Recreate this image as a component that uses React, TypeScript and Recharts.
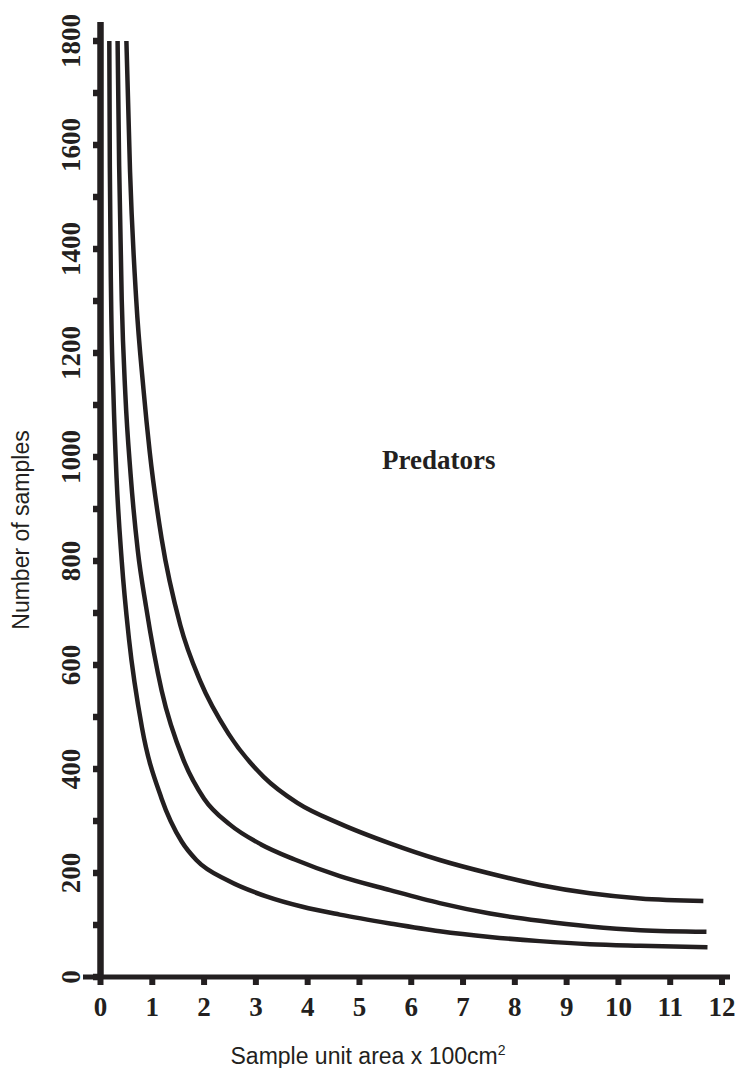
import { LineChart, Line, XAxis, YAxis, ReferenceLine } from "recharts";

const INK = "#231f20";
const SERIF = "'Liberation Serif', 'Times New Roman', serif";
const SANS = "'Liberation Sans', Arial, Helvetica, sans-serif";

// sample unit area (x 100 cm2) ticks and sample-count ticks
const AREA_TICKS = [0, 1, 2, 3, 4, 5, 6, 7, 8, 9, 10, 11, 12];
const COUNT_TICKS = [
  0, 100, 200, 300, 400, 500, 600, 700, 800, 900, 1000, 1100, 1200, 1300,
  1400, 1500, 1600, 1700, 1800,
];

// lower curve
const LOW_AREA = [0.17, 0.18, 0.205, 0.25, 0.31, 0.41, 0.55, 0.8, 1.18, 1.57, 1.85, 2.47, 3.2, 3.9, 4.62, 5.59, 6.55, 7.52, 8.48, 9.45, 10.42, 11.72];
const LOW_N = [1800, 1560, 1302, 1120, 960, 800, 650, 480, 343, 260, 225, 185, 155, 135, 120, 103, 88, 77, 69, 63, 60, 57];

// middle curve
const MID_AREA = [0.33, 0.36, 0.41, 0.48, 0.58, 0.72, 0.88, 1.18, 1.6, 2.0, 2.5, 3.1, 3.75, 4.62, 5.59, 6.55, 7.52, 8.48, 9.45, 10.42, 11.7];
const MID_N = [1800, 1560, 1302, 1120, 968, 820, 712, 551, 418, 343, 293, 255, 226, 194, 167, 142, 122, 108, 97, 90, 87];

// upper curve
const HIGH_AREA = [0.5, 0.57, 0.69, 0.83, 0.95, 1.18, 1.54, 1.93, 2.47, 3.15, 3.8, 4.62, 5.59, 6.55, 7.52, 8.48, 9.45, 10.42, 11.64];
const HIGH_N = [1800, 1550, 1302, 1130, 1010, 843, 677, 568, 468, 385, 335, 295, 257, 225, 199, 177, 161, 151, 146];

const zip = (xs: number[], ys: number[]) => xs.map((area, i) => ({ area, n: ys[i] }));

const curves = [zip(LOW_AREA, LOW_N), zip(MID_AREA, MID_N), zip(HIGH_AREA, HIGH_N)];

function CountTick({ x, y, payload }: any) {
  const v = payload.value as number;
  const tx = x - 3;
  return (
    <g>
      <line x1={x + 10} x2={x + 16} y1={y} y2={y} stroke={INK} strokeWidth={6.5} />
      {v % 200 === 0 && (
        <text
          x={tx}
          y={y}
          transform={`rotate(-90, ${tx}, ${y})`}
          textAnchor="middle"
          fill={INK}
          fontFamily={SERIF}
          fontWeight={700}
          fontSize={27}
        >
          {v}
        </text>
      )}
    </g>
  );
}

export default function App() {
  return (
    <div style={{ position: "absolute", left: 0, top: 0, width: 736, height: 1068, background: "#fff" }}>
      <LineChart width={736} height={1068} margin={{ top: 22, right: 6, bottom: 0, left: 0 }}>
        <XAxis
          type="number"
          dataKey="area"
          domain={[0, 12]}
          ticks={AREA_TICKS}
          interval={0}
          padding={{ left: 17.5, right: 8 }}
          height={91}
          axisLine={{ stroke: INK, strokeWidth: 5 }}
          tickLine={{ stroke: INK, strokeWidth: 6 }}
          tickSize={8}
          tickMargin={12}
          tick={{ fill: INK, fontSize: 27, fontWeight: 700, fontFamily: SERIF }}
        />
        <YAxis
          type="number"
          dataKey="n"
          domain={[0, 1800]}
          ticks={COUNT_TICKS}
          interval={0}
          padding={{ top: 19, bottom: 0 }}
          width={83}
          axisLine={false}
          tickLine={false}
          tickSize={0}
          tickMargin={0}
          tick={<CountTick />}
        />
        <ReferenceLine x={0} stroke={INK} strokeWidth={6.5} />
        {curves.map((d, i) => (
          <Line
            key={i}
            data={d}
            dataKey="n"
            type="monotone"
            stroke={INK}
            strokeWidth={4.5}
            dot={false}
            activeDot={false}
            isAnimationActive={false}
          />
        ))}
        <text x={382} y={469} fill={INK} fontFamily={SERIF} fontWeight={700} fontSize={27}>
          Predators
        </text>
        <text
          x={29}
          y={530}
          transform="rotate(-90, 29, 530)"
          textAnchor="middle"
          fill={INK}
          fontFamily={SANS}
          fontSize={23}
        >
          Number of samples
        </text>
        <text x={368} y={1064} textAnchor="middle" fill={INK} fontFamily={SANS} fontSize={23}>
          Sample unit area x 100cm
          <tspan dy={-9} fontSize={14}>2</tspan>
        </text>
      </LineChart>
    </div>
  );
}
